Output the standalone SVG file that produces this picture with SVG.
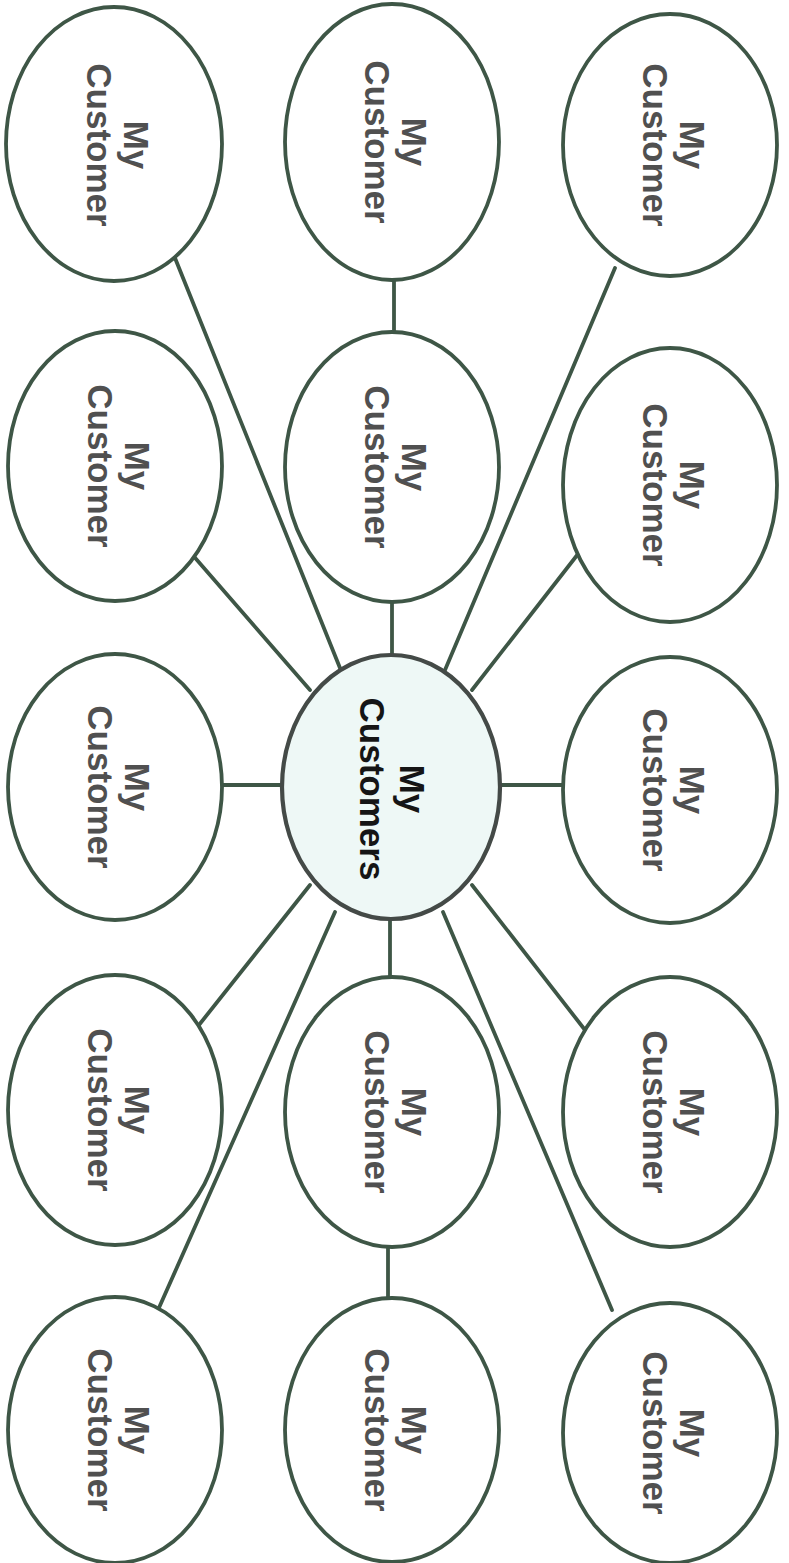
<svg xmlns="http://www.w3.org/2000/svg" width="789" height="1563" viewBox="0 0 789 1563">
<style>
.node{fill:#ffffff;stroke:#3e5646;stroke-width:3.8}
.hub{fill:#eef8f6;stroke:#444a47;stroke-width:4.2}
.edge{stroke:#3e5646;stroke-width:3.8;stroke-linecap:round;fill:none}
.lbl{font-family:"Liberation Sans",Arial,sans-serif;font-weight:bold;font-size:35px;fill:#505050;text-anchor:middle}
.hlbl{font-family:"Liberation Sans",Arial,sans-serif;font-weight:bold;font-size:35px;fill:#151515;text-anchor:middle}
</style>
<rect width="789" height="1563" fill="#ffffff"/>
<g id="connectors">
<line class="edge" x1="175" y1="258" x2="340" y2="668"/>
<line class="edge" x1="615" y1="268" x2="445" y2="670"/>
<line class="edge" x1="190" y1="552" x2="310" y2="690"/>
<line class="edge" x1="585" y1="545" x2="472" y2="690"/>
<line class="edge" x1="195" y1="1030" x2="310" y2="885"/>
<line class="edge" x1="585" y1="1030" x2="472" y2="885"/>
<line class="edge" x1="158" y1="1310" x2="335" y2="912"/>
<line class="edge" x1="612" y1="1310" x2="443" y2="912"/>
<line class="edge" x1="220" y1="785" x2="286" y2="785"/>
<line class="edge" x1="498" y1="785" x2="565" y2="785"/>
<line class="edge" x1="392" y1="598" x2="392" y2="658"/>
<line class="edge" x1="390" y1="916" x2="390" y2="980"/>
<line class="edge" x1="394" y1="278" x2="394" y2="335"/>
<line class="edge" x1="388" y1="1244" x2="388" y2="1300"/>
</g>
<g id="n1"><ellipse class="node" cx="114" cy="144" rx="108" ry="137"/><g transform="translate(114,145) rotate(90)"><text class="lbl" y="-10">My</text><text class="lbl" y="27">Customer</text></g></g>
<g id="n2"><ellipse class="node" cx="392" cy="142" rx="107" ry="138"/><g transform="translate(392,142) rotate(90)"><text class="lbl" y="-10">My</text><text class="lbl" y="27">Customer</text></g></g>
<g id="n3"><ellipse class="node" cx="670" cy="145" rx="107" ry="131"/><g transform="translate(670,145) rotate(90)"><text class="lbl" y="-10">My</text><text class="lbl" y="27">Customer</text></g></g>
<g id="n4"><ellipse class="node" cx="115" cy="466" rx="107" ry="135"/><g transform="translate(115,466) rotate(90)"><text class="lbl" y="-10">My</text><text class="lbl" y="27">Customer</text></g></g>
<g id="n5"><ellipse class="node" cx="392" cy="467" rx="107" ry="135"/><g transform="translate(392,467) rotate(90)"><text class="lbl" y="-10">My</text><text class="lbl" y="27">Customer</text></g></g>
<g id="n6"><ellipse class="node" cx="670" cy="485" rx="107" ry="137"/><g transform="translate(670,485) rotate(90)"><text class="lbl" y="-10">My</text><text class="lbl" y="27">Customer</text></g></g>
<g id="n7"><ellipse class="node" cx="115" cy="787" rx="107" ry="133"/><g transform="translate(115,787) rotate(90)"><text class="lbl" y="-10">My</text><text class="lbl" y="27">Customer</text></g></g>
<g id="hub"><ellipse class="hub" cx="391" cy="787" rx="109" ry="132"/><g transform="translate(391,789) rotate(90)"><text class="hlbl" y="-9">My</text><text class="hlbl" y="31">Customers</text></g></g>
<g id="n8"><ellipse class="node" cx="670" cy="790" rx="107" ry="133"/><g transform="translate(670,790) rotate(90)"><text class="lbl" y="-10">My</text><text class="lbl" y="27">Customer</text></g></g>
<g id="n9"><ellipse class="node" cx="115" cy="1110" rx="107" ry="135"/><g transform="translate(115,1110) rotate(90)"><text class="lbl" y="-10">My</text><text class="lbl" y="27">Customer</text></g></g>
<g id="n10"><ellipse class="node" cx="392" cy="1112" rx="107" ry="135"/><g transform="translate(392,1112) rotate(90)"><text class="lbl" y="-10">My</text><text class="lbl" y="27">Customer</text></g></g>
<g id="n11"><ellipse class="node" cx="670" cy="1112" rx="107" ry="135"/><g transform="translate(670,1112) rotate(90)"><text class="lbl" y="-10">My</text><text class="lbl" y="27">Customer</text></g></g>
<g id="n12"><ellipse class="node" cx="115" cy="1430" rx="107" ry="133"/><g transform="translate(115,1430) rotate(90)"><text class="lbl" y="-10">My</text><text class="lbl" y="27">Customer</text></g></g>
<g id="n13"><ellipse class="node" cx="392" cy="1430" rx="107" ry="132"/><g transform="translate(392,1430) rotate(90)"><text class="lbl" y="-10">My</text><text class="lbl" y="27">Customer</text></g></g>
<g id="n14"><ellipse class="node" cx="670" cy="1433" rx="107" ry="130"/><g transform="translate(670,1433) rotate(90)"><text class="lbl" y="-10">My</text><text class="lbl" y="27">Customer</text></g></g>
</svg>
